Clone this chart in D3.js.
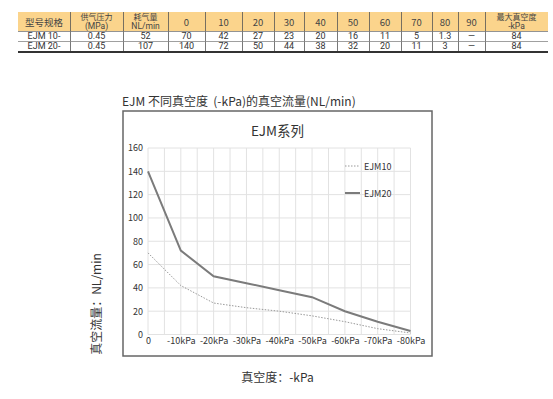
<!DOCTYPE html>
<html><head><meta charset="utf-8">
<script src="https://cdn.jsdelivr.net/npm/d3@7/dist/d3.min.js"></script>
<style>
html,body{margin:0;padding:0;background:#fff;}
svg{display:block;font-family:"Noto Sans CJK SC","Noto Sans",sans-serif;}
</style></head>
<body><svg id="c" width="553" height="399"></svg>
<script>
// ---- data ----
const tableHeaders = [["型号规格"],["供气压力","(MPa)"],["耗气量","NL/min"],["0"],["10"],["20"],["30"],["40"],["50"],["60"],["70"],["80"],["90"],["最大真空度","-kPa"]];
const tableRow1 = ["EJM 10-","0.45","52","70","42","27","23","20","16","11","5","1.3","—","84"];
const tableRow2 = ["EJM 20-","0.45","107","140","72","50","44","38","32","20","11","3","—","84"];
const vacuum = [0,10,20,30,40,50,60,70,80];
const xTickLabels = ["0","-10kPa","-20kPa","-30kPa","-40kPa","-50kPa","-60kPa","-70kPa","-80kPa"];
const ejm10 = [70,42,27,23,20,16,11,5,1.3];
const ejm20 = [140,72,50,44,38,32,20,11,3];
const yTicks = [0,20,40,60,80,100,120,140,160];
const seriesNames = ["EJM10","EJM20"];
const chartTitle = "EJM系列";
const topTitle = "EJM 不同真空度\u00A0\u00A0(-kPa)的真空流量(NL/min)";
const yTitle = "真空流量：NL/min";
const xTitle = "真空度：-kPa";

// ---- layout ----
const svg = d3.select("#c");
const colEdges = [18,70,123,168,205,242,274,304,337,369,401,432,458,485,548];
const tTop = 12, hBot = 31, r1Bot = 41, r2Bot = 51;
const latin = "Roboto, 'Noto Sans', sans-serif";

// table header fill
svg.append("rect").attr("x",colEdges[0]).attr("y",tTop).attr("width",colEdges[colEdges.length-1]-colEdges[0]).attr("height",hBot-tTop).attr("fill","#fbd48c");
// header text
tableHeaders.forEach((lines,i)=>{
  const cx=(colEdges[i]+colEdges[i+1])/2;
  if(lines.length===1){
    svg.append("text").attr("x",cx).attr("y",21.5).attr("text-anchor","middle").attr("dominant-baseline","central")
      .attr("fill","#444").attr("font-size",9.5).text(lines[0]);
  } else {
    svg.append("text").attr("x",cx).attr("y",16).attr("text-anchor","middle").attr("dominant-baseline","central")
      .attr("fill","#444").attr("font-size",8).text(lines[0]);
    svg.append("text").attr("x",cx).attr("y",26).attr("text-anchor","middle").attr("dominant-baseline","central")
      .attr("fill","#444").attr("font-size",8.5).attr("font-family",latin).text(lines[1]);
  }
});
[[tableRow1,36],[tableRow2,46]].forEach(([row,y])=>{
  row.forEach((v,i)=>{
    const cx=(colEdges[i]+colEdges[i+1])/2;
    svg.append("text").attr("x",cx).attr("y",y).attr("text-anchor","middle").attr("dominant-baseline","central")
      .attr("fill","#333").attr("font-size",9).attr("font-family",latin).text(v);
  });
});
// vertical borders
colEdges.slice(1,-1).forEach(x=>{
  svg.append("line").attr("x1",x+0.5).attr("x2",x+0.5).attr("y1",tTop).attr("y2",r2Bot).attr("stroke","#555").attr("stroke-width",0.8);
});
svg.append("line").attr("x1",colEdges[0]).attr("x2",colEdges[colEdges.length-1]).attr("y1",hBot+0.5).attr("y2",hBot+0.5).attr("stroke","#777").attr("stroke-width",0.8);
svg.append("line").attr("x1",colEdges[0]).attr("x2",colEdges[colEdges.length-1]).attr("y1",r1Bot+0.5).attr("y2",r1Bot+0.5).attr("stroke","#888").attr("stroke-width",0.8);
svg.append("line").attr("x1",colEdges[0]).attr("x2",colEdges[colEdges.length-1]).attr("y1",r2Bot+1).attr("y2",r2Bot+1).attr("stroke","#333").attr("stroke-width",2);

// top title
svg.append("text").attr("x",122).attr("y",100).attr("dominant-baseline","central").attr("font-size",12).attr("fill","#333").text(topTitle);

// chart box
svg.append("rect").attr("x",123).attr("y",111).attr("width",309).attr("height",245).attr("fill","#fff").attr("stroke","#666").attr("stroke-width",1.5);
svg.append("text").attr("x",277.5).attr("y",130).attr("text-anchor","middle").attr("dominant-baseline","central").attr("font-size",13.5).attr("fill","#333").text(chartTitle);

const x = d3.scaleLinear().domain([0,80]).range([148,410.5]);
const y = d3.scaleLinear().domain([0,160]).range([334.5,148]);

const g = svg.append("g");
// grid
g.selectAll(".hg").data(yTicks).join("line").attr("x1",x(0)).attr("x2",x(80)).attr("y1",d=>y(d)).attr("y2",d=>y(d)).attr("stroke","#e2e2e2").attr("stroke-width",1);
g.selectAll(".vg").data(d3.range(0,81,5)).join("line").attr("x1",d=>x(d)).attr("x2",d=>x(d)).attr("y1",y(0)).attr("y2",y(160)).attr("stroke","#e2e2e2").attr("stroke-width",1);

// axes
const yAxis = d3.axisLeft(y).tickValues(yTicks).tickSize(0).tickPadding(5);
const ya = svg.append("g").attr("transform",`translate(${x(0)},0)`).call(yAxis);
ya.select(".domain").remove();
ya.selectAll("text").attr("font-size",9).attr("fill","#333").attr("font-family","Noto Sans CJK SC");
const xAxis = d3.axisBottom(x).tickValues(vacuum).tickFormat((d,i)=>xTickLabels[i]).tickSize(0).tickPadding(3);
const xa = svg.append("g").attr("transform",`translate(0,${y(0)})`).call(xAxis);
xa.select(".domain").remove();
xa.selectAll("text").attr("font-size",9).attr("fill","#333").attr("font-family","Noto Sans CJK SC");

// lines
const line = d3.line().x((d,i)=>x(vacuum[i])).y(d=>y(d));
svg.append("path").datum(ejm10).attr("d",line).attr("fill","none").attr("stroke","#999").attr("stroke-width",1).attr("stroke-dasharray","1.5,1.5");
svg.append("path").datum(ejm20).attr("d",line).attr("fill","none").attr("stroke","#7b7b7b").attr("stroke-width",2);

// legend
const lg = [[166,"#999",1,"1.5,1.5"],[193,"#7b7b7b",2,null]];
seriesNames.forEach((n,i)=>{
  const [ly,c,w,da]=lg[i];
  const l=svg.append("line").attr("x1",345).attr("x2",360).attr("y1",ly).attr("y2",ly).attr("stroke",c).attr("stroke-width",w);
  if(da) l.attr("stroke-dasharray",da);
  svg.append("text").attr("x",364).attr("y",ly).attr("dominant-baseline","central").attr("font-size",9).attr("fill","#333").text(n);
});

// axis titles
svg.append("text").attr("transform","translate(95,304) rotate(-90)").attr("text-anchor","middle").attr("dominant-baseline","central").attr("font-size",12).attr("fill","#333").text(yTitle);
svg.append("text").attr("x",277.5).attr("y",376).attr("text-anchor","middle").attr("dominant-baseline","central").attr("font-size",12).attr("fill","#333").text(xTitle);
</script></body></html>
